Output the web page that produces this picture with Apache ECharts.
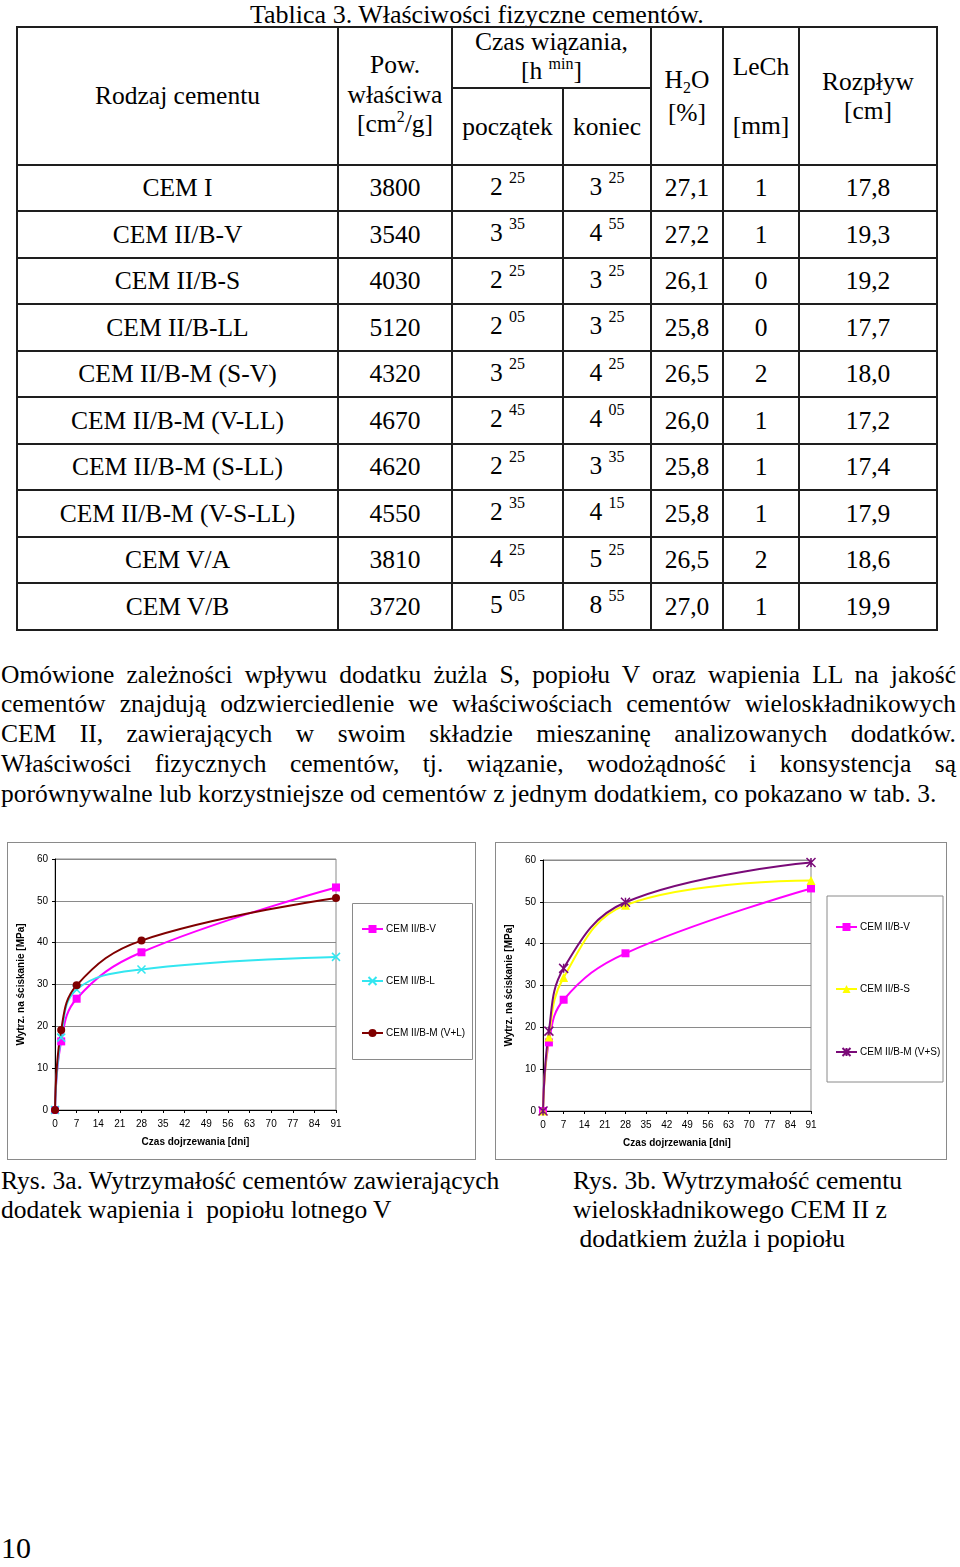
<!DOCTYPE html>
<html>
<head>
<meta charset="utf-8">
<script src="https://cdn.jsdelivr.net/npm/echarts/dist/echarts.min.js"></script>
<style>
  body { margin: 0; background: #fff; }
  #page { position: relative; width: 960px; height: 1567px; overflow: hidden; font-family: "Liberation Serif", "Times New Roman", serif; color: #000; }
  .txt { position: absolute; font-size: 25.5px; line-height: 29.75px; white-space: nowrap; }
  .cell { position: absolute; display: flex; align-items: center; justify-content: center; text-align: center; font-size: 25.5px; line-height: 29.5px; }
  .ln { position: absolute; background: #1e1e1e; }
  .sp { font-size: 16px; position: relative; top: -12px; }
  .sb { font-size: 16px; position: relative; top: 5px; }
  .just { text-align: justify; text-align-last: justify; width: 955px; white-space: normal; }
  .chartbox { position: absolute; border: 1px solid #8a8a8a; }
</style>
</head>
<body>
<div id="page">
  <div class="txt" style="left:250px; top:2px; font-size:26px; line-height:26px;">Tablica 3. Właściwości fizyczne cementów.</div>
  <div id="table"></div>

  <div class="txt just" style="left:1px; top:659.5px;">Omówione zależności wpływu dodatku żużla S, popiołu V oraz wapienia LL na jakość</div>
  <div class="txt just" style="left:1px; top:689.25px;">cementów znajdują odzwierciedlenie we właściwościach cementów wieloskładnikowych</div>
  <div class="txt just" style="left:1px; top:719px;">CEM II, zawierających w swoim składzie mieszaninę analizowanych dodatków.</div>
  <div class="txt just" style="left:1px; top:748.75px;">Właściwości fizycznych cementów, tj. wiązanie, wodożądność i konsystencja są</div>
  <div class="txt" style="left:1px; top:778.5px;">porównywalne lub korzystniejsze od cementów z jednym dodatkiem, co pokazano w tab. 3.</div>

  <div id="chartA" class="chartbox" style="left:7px; top:842px; width:467px; height:316px;"></div>
  <div id="chartB" class="chartbox" style="left:495px; top:842px; width:450px; height:316px;"></div>

  <div class="txt" style="left:1px; top:1166px; line-height:29px;">Rys. 3a. Wytrzymałość cementów zawierających<br>dodatek wapienia i&nbsp; popiołu lotnego V</div>
  <div class="txt" style="left:573px; top:1166px; line-height:29px;">Rys. 3b. Wytrzymałość cementu<br>wieloskładnikowego CEM II z<br>&nbsp;dodatkiem żużla i popiołu</div>

  <div class="txt" style="left:1px; top:1533px; font-size:30px; line-height:30px;">10</div>
</div>

<script>
// Tablica 3
var cementTypes = ['CEM I', 'CEM II/B-V', 'CEM II/B-S', 'CEM II/B-LL', 'CEM II/B-M (S-V)', 'CEM II/B-M (V-LL)', 'CEM II/B-M (S-LL)', 'CEM II/B-M (V-S-LL)', 'CEM V/A', 'CEM V/B']
var surfaceArea = [3800, 3540, 4030, 5120, 4320, 4670, 4620, 4550, 3810, 3720]
var setStart = ['2 25', '3 35', '2 25', '2 05', '3 25', '2 45', '2 25', '2 35', '4 25', '5 05']
var setEnd = ['3 25', '4 55', '3 25', '3 25', '4 25', '4 05', '3 35', '4 15', '5 25', '8 55']
var waterDemand = ['27,1', '27,2', '26,1', '25,8', '26,5', '26,0', '25,8', '25,8', '26,5', '27,0']
var leChatelier = [1, 1, 0, 0, 2, 1, 1, 1, 2, 1]
var flowCm = ['17,8', '19,3', '19,2', '17,7', '18,0', '17,2', '17,4', '17,9', '18,6', '19,9']

// wykresy - wytrzymalosc na sciskanie [MPa]
var days = [0, 2, 7, 28, 91]
var cemIIBV = [0, 16.4, 26.6, 37.7, 53.2]
var cemIIBL = [0, 17.3, 28.8, 33.6, 36.6]
var cemIIBMVL = [0, 19.1, 29.8, 40.5, 50.7]
var cemIIBS = [0, 17.7, 31.9, 49.2, 55.1]
var cemIIBMVS = [0, 19.1, 34.1, 49.9, 59.4]

// --- tabela ---
var colX = [17, 338, 452, 563, 651, 723, 799, 937]
var headTop = 27
var headMid = 88
var bodyTop = 165
var rowH = 46.45
var tbl = document.getElementById('table')

function line (x, y, w, h) {
  var d = document.createElement('div')
  d.className = 'ln'
  d.style.cssText = 'left:' + x + 'px;top:' + y + 'px;width:' + w + 'px;height:' + h + 'px'
  tbl.appendChild(d)
}
function cell (x0, x1, y0, y1, html) {
  var d = document.createElement('div')
  d.className = 'cell'
  d.style.cssText = 'left:' + x0 + 'px;top:' + y0 + 'px;width:' + (x1 - x0) + 'px;height:' + (y1 - y0) + 'px'
  d.innerHTML = '<div>' + html + '</div>'
  tbl.appendChild(d)
}
function hm (s) {
  var p = s.split(' ')
  return p[0] + ' <span class="sp">' + p[1] + '</span>'
}

var bottom = bodyTop + rowH * cementTypes.length

cell(colX[0], colX[1], headTop, bodyTop, 'Rodzaj cementu')
cell(colX[1], colX[2], headTop, bodyTop, 'Pow.<br>właściwa<br>[cm<span class="sp" style="top:-10px">2</span>/g]')
cell(colX[2], colX[4], headTop, headMid, 'Czas wiązania,<br>[h <span class="sp" style="top:-10px">min</span>]')
cell(colX[2], colX[3], headMid, bodyTop, 'początek')
cell(colX[3], colX[4], headMid, bodyTop, 'koniec')
cell(colX[4], colX[5], headTop, bodyTop, 'H<span class="sb">2</span>O<br>[%]')
cell(colX[5], colX[6], headTop, bodyTop, 'LeCh<br><br>[mm]')
cell(colX[6], colX[7], headTop, bodyTop, 'Rozpływ<br>[cm]')

for (var i = 0; i < cementTypes.length; i++) {
  var y0 = bodyTop + rowH * i
  var y1 = y0 + rowH
  cell(colX[0], colX[1], y0, y1, cementTypes[i])
  cell(colX[1], colX[2], y0, y1, surfaceArea[i])
  cell(colX[2], colX[3], y0, y1, hm(setStart[i]))
  cell(colX[3], colX[4], y0, y1, hm(setEnd[i]))
  cell(colX[4], colX[5], y0, y1, waterDemand[i])
  cell(colX[5], colX[6], y0, y1, leChatelier[i])
  cell(colX[6], colX[7], y0, y1, flowCm[i])
  line(colX[0] - 1, y1 - 1, colX[7] - colX[0] + 2, 2)
}
line(colX[0] - 1, headTop - 1, colX[7] - colX[0] + 2, 2)
line(colX[2], headMid - 1, colX[4] - colX[2], 2)
line(colX[0] - 1, bodyTop - 1, colX[7] - colX[0] + 2, 2)
colX.forEach(function (x, k) {
  if (k === 3) line(x - 1, headMid - 1, 2, bottom - headMid + 2)
  else line(x - 1, headTop - 1, 2, bottom - headTop + 2)
})

// --- wykresy ---
var sansFont = '"Liberation Sans", Arial, sans-serif'
var crossPath = 'path://M0,0L10,10M10,0L0,10'
var starPath = 'path://M0,0L10,10M10,0L0,10M5,0L5,10'

function drawChart (id, cfg) {
  var myChart = echarts.init(document.getElementById(id))
  var option = {
    animation: false,
    grid: {
      left: cfg.grid[0], right: cfg.grid[1], top: cfg.grid[2], bottom: cfg.grid[3],
      show: true, borderColor: '#8a8a8a', borderWidth: 1, backgroundColor: 'transparent'
    },
    xAxis: {
      type: 'value', min: 0, max: 91, interval: 7,
      name: 'Czas dojrzewania [dni]', nameLocation: 'middle', nameGap: 27,
      nameTextStyle: { fontWeight: 'bold', fontSize: 10, color: '#000', fontFamily: sansFont },
      axisLine: { lineStyle: { color: '#000', width: 1 } },
      axisTick: { show: true, length: 3, lineStyle: { color: '#000' } },
      axisLabel: { fontSize: 10, color: '#000', margin: 9, fontFamily: sansFont },
      splitLine: { show: false }
    },
    yAxis: {
      type: 'value', min: 0, max: 60, interval: 10,
      name: 'Wytrz. na ściskanie [MPa]', nameLocation: 'middle', nameGap: cfg.yNameGap,
      nameTextStyle: { fontWeight: 'bold', fontSize: 10, color: '#000', fontFamily: sansFont },
      axisLine: { show: true, lineStyle: { color: '#000', width: 1 } },
      axisTick: { show: true, length: 3, lineStyle: { color: '#000' } },
      axisLabel: { fontSize: 10, color: '#000', margin: 7, fontFamily: sansFont },
      splitLine: { show: true, lineStyle: { color: '#8a8a8a', width: 1 } }
    },
    legend: cfg.series.map(function (s, i) {
      return {
        data: [s.name], orient: 'vertical', left: cfg.legendX, top: cfg.legendY[i],
        itemWidth: 21, itemHeight: 10, padding: 0, selectedMode: false,
        textStyle: { fontSize: 10, lineHeight: 10, color: '#000', fontFamily: sansFont, padding: [0, 0, 0, -2] }
      }
    }),
    graphic: [{
      type: 'rect', silent: true,
      shape: { x: cfg.box[0], y: cfg.box[1], width: cfg.box[2], height: cfg.box[3] },
      style: { fill: 'none', stroke: '#8a8a8a', lineWidth: 1 }
    }],
    series: cfg.series.map(function (s) {
      return {
        type: 'line', name: s.name,
        data: days.map(function (d, k) { return [d, s.values[k]] }),
        smooth: 0.4,
        symbol: s.symbol, symbolSize: s.size,
        lineStyle: { color: s.color, width: 2 },
        itemStyle: { color: s.color, borderColor: s.color, borderWidth: s.border || 0 }
      }
    })
  }
  myChart.setOption(option)
}

drawChart('chartA', {
  grid: [45, 139, 16, 49],
  yNameGap: 24,
  box: [344.5, 60.5, 120, 156],
  legendX: 353,
  legendY: [81, 133, 185],
  series: [
    { name: 'CEM II/B-V', values: cemIIBV, color: '#ff00ff', symbol: 'rect', size: 8 },
    { name: 'CEM II/B-L', values: cemIIBL, color: '#33e6f0', symbol: crossPath, size: 8, border: 1.5 },
    { name: 'CEM II/B-M (V+L)', values: cemIIBMVL, color: '#800000', symbol: 'circle', size: 8 }
  ]
})

drawChart('chartB', {
  grid: [44, 135, 17, 48],
  yNameGap: 23,
  box: [331, 53, 116, 186],
  legendX: 339,
  legendY: [79, 141, 204],
  series: [
    { name: 'CEM II/B-V', values: cemIIBV, color: '#ff00ff', symbol: 'rect', size: 8 },
    { name: 'CEM II/B-S', values: cemIIBS, color: '#ffff00', symbol: 'triangle', size: 9 },
    { name: 'CEM II/B-M (V+S)', values: cemIIBMVS, color: '#7a0a78', symbol: starPath, size: 9, border: 1.5 }
  ]
})
</script>
</body>
</html>
